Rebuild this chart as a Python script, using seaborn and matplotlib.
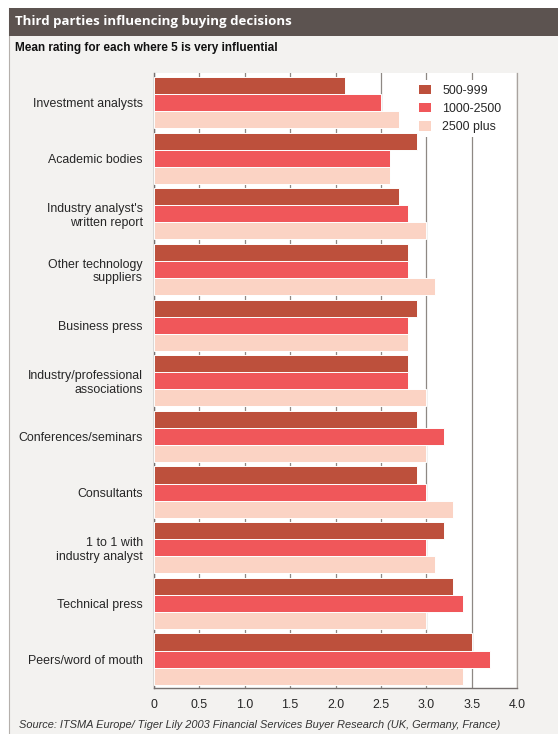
import matplotlib
matplotlib.use("Agg")
import matplotlib.pyplot as plt
from matplotlib import font_manager
from matplotlib.patches import Rectangle, Patch
import seaborn as sns
import pandas as pd

sources = [
    "Investment analysts",
    "Academic bodies",
    "Industry analyst's\nwritten report",
    "Other technology\nsuppliers",
    "Business press",
    "Industry/professional\nassociations",
    "Conferences/seminars",
    "Consultants",
    "1 to 1 with\nindustry analyst",
    "Technical press",
    "Peers/word of mouth",
]
size_bands = ["500-999", "1000-2500", "2500 plus"]
rating_500_999 = [2.1, 2.9, 2.7, 2.8, 2.9, 2.8, 2.9, 2.9, 3.2, 3.3, 3.5]
rating_1000_2500 = [2.5, 2.6, 2.8, 2.8, 2.8, 2.8, 3.2, 3.0, 3.0, 3.4, 3.7]
rating_2500_plus = [2.7, 2.6, 3.0, 3.1, 2.8, 3.0, 3.0, 3.3, 3.1, 3.0, 3.4]
x_ticks = [0, 0.5, 1.0, 1.5, 2.0, 2.5, 3.0, 3.5, 4.0]
x_tick_labels = ["0", "0.5", "1.0", "1.5", "2.0", "2.5", "3.0", "3.5", "4.0"]

band_colors = ["#bd503c", "#f0575a", "#fbd3c4"]

installed = {f.name for f in font_manager.fontManager.ttflist}
NARROW = "Liberation Sans Narrow" if "Liberation Sans Narrow" in installed else "Liberation Sans"
TEXT = "#262626"
LABEL_SIZE = 8.9

df = pd.DataFrame({
    "source": sources * 3,
    "band": [b for b in size_bands for _ in sources],
    "rating": rating_500_999 + rating_1000_2500 + rating_2500_plus,
})

W, H = 558, 734
fig = plt.figure(figsize=(W / 100, H / 100), dpi=100, facecolor="white")

def fx(px):
    return px / W

def fy(py):
    return 1 - py / H

# light panel behind everything, with a thin left border
fig.patches.append(Rectangle((fx(9), 0), 1 - fx(9), fy(8), transform=fig.transFigure,
                             facecolor="#f3f2f0", edgecolor="none", zorder=-2))
fig.lines.append(plt.Line2D([fx(9), fx(9)], [0, fy(8)], transform=fig.transFigure,
                            color="#b5b0ac", lw=0.8, zorder=-1))
# dark title band
fig.patches.append(Rectangle((fx(9), fy(36)), 1 - fx(9), fy(8) - fy(36), transform=fig.transFigure,
                             facecolor="#5c5350", edgecolor="none", zorder=-1))

fig.text(fx(15), fy(22), "Third parties influencing buying decisions", color="white",
         fontsize=9.5, fontweight="bold", family="Open Sans", va="center", ha="left")
fig.text(fx(15), fy(48), "Mean rating for each where 5 is very influential", color="#111111",
         fontsize=8.5, fontweight="bold", family=NARROW, va="center", ha="left")
fig.text(fx(19), fy(725),
         "Source: ITSMA Europe/ Tiger Lily 2003 Financial Services Buyer Research (UK, Germany, France)",
         color="#333333", fontsize=7.9, style="italic", family=NARROW,
         va="center", ha="left")

ax = fig.add_axes([fx(154), fy(688), fx(517) - fx(154), fy(73) - fy(688)])
ax.set_facecolor("white")

sns.barplot(data=df, y="source", x="rating", hue="band", hue_order=size_bands,
            palette=band_colors, orient="h", width=0.92, saturation=1,
            edgecolor="white", linewidth=0.7, ax=ax, legend=False, zorder=3)

ax.set_xlim(0, 4.0)
ax.set_ylim(10.52, -0.53)
ax.set_xticks(x_ticks)
ax.set_xticklabels(x_tick_labels, family=NARROW, fontsize=LABEL_SIZE, color=TEXT)
ax.set_yticks(range(len(sources)))
ax.set_yticklabels(sources, family=NARROW, fontsize=LABEL_SIZE, color=TEXT,
                   ha="right", multialignment="right", linespacing=1.15)
ax.grid(axis="x", color="#8e8884", lw=0.9, zorder=0)
ax.grid(axis="y", visible=False)
ax.set_axisbelow(True)
ax.set_xlabel("")
ax.set_ylabel("")
ax.tick_params(axis="x", length=0, pad=8)
ax.tick_params(axis="y", length=0, pad=8)

ax.spines["top"].set_visible(False)
ax.spines["left"].set_color("#777170")
ax.spines["left"].set_linewidth(1.0)
ax.spines["bottom"].set_color("#777170")
ax.spines["bottom"].set_linewidth(1.0)
ax.spines["right"].set_color("#a9a39f")
ax.spines["right"].set_linewidth(0.9)

handles = [Patch(facecolor=c, edgecolor="none") for c in band_colors]
leg = ax.legend(handles, size_bands, loc="upper left", bbox_to_anchor=(0.7, 0.998),
                frameon=True, facecolor="white", edgecolor="none", framealpha=1,
                handlelength=1.0, handleheight=0.8, handletextpad=0.9,
                labelspacing=0.5, borderpad=0.35,
                prop={"family": NARROW, "size": LABEL_SIZE})
# keep the legend's white box under the bars but above the gridlines
leg.set_zorder(2)
for t in leg.get_texts():
    t.set_color(TEXT)

fig.savefig("out.png", dpi=100, facecolor=fig.get_facecolor())
